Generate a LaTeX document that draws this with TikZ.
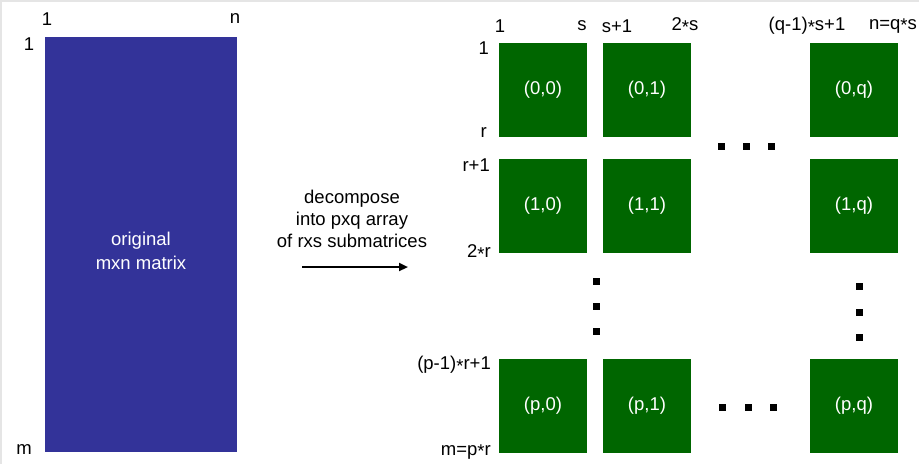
\documentclass[tikz,border=0pt]{standalone}
\usepackage{fontspec}
\setmainfont{Liberation Sans}
\usetikzlibrary{arrows.meta}
% small centred multiplication star
\newcommand\mulstar{\raisebox{-0.3ex}{*}}
\begin{document}
\begin{tikzpicture}[x=1pt,y=-1pt,
  every node/.style={font=\fontsize{18.5}{22}\selectfont, inner sep=0pt},
  bigmat/.style={rectangle, fill=mblue, minimum width=192pt, minimum height=415pt, text=white, align=center},
  blk/.style={rectangle, fill=mgreen, minimum width=88pt, minimum height=94pt, text=white},
  dotsq/.style={rectangle, fill=black, minimum size=7pt, inner sep=0pt},
  rowlab/.style={anchor=east}]
\definecolor{mblue}{HTML}{333399}
\definecolor{mgreen}{HTML}{006600}
\useasboundingbox (0,0) rectangle (919,464);
\fill[white] (0,0) rectangle (919,464);
% thin grey frame along top and left edges
\fill[black!10] (0,0) rectangle (919,2);
\fill[black!10] (0,0) rectangle (2,464);

% original matrix
\node[bigmat] (orig) at (141,244.5) {};
\node[text=white, align=center] (origtxt) at (141,251) {original\\[2pt]mxn matrix};
\node (l1) at (29,44) {1};
\node (lm) at (24,450) {m};
\node (t1) at (47,19) {1};
\node (tn) at (235,19) {n};

% decomposition arrow and caption
\node[align=center] (cap) at (352,219) {decompose\\into pxq array\\of rxs submatrices};
\coordinate (a0) at (302,267);
\coordinate (a1) at (408,267);
\draw[line width=2.2pt, -{Triangle[length=9pt,width=8pt]}] (a0) -- (a1);

% array of submatrices
\node[blk] (b00) at (543,90) {(0,0)};
\node[blk] (b01) at (647,90) {(0,1)};
\node[blk] (b0q) at (854,90) {(0,q)};
\node[blk] (b10) at (543,206) {(1,0)};
\node[blk] (b11) at (647,206) {(1,1)};
\node[blk] (b1q) at (854,206) {(1,q)};
\node[blk] (bp0) at (543,405.5) {(p,0)};
\node[blk] (bp1) at (647,405.5) {(p,1)};
\node[blk] (bpq) at (854,405.5) {(p,q)};

% column index labels
\node (c1) at (500,26) {1};
\node (cs) at (582,26) {s};
\node (cs1) at (617,26) {s+1};
\node (c2s) at (685,26) {2\mulstar s};
\node (cq) at (807,26) {(q-1)\mulstar s+1};
\node (cn) at (893,26) {n=q\mulstar s};

% row index labels
\node[rowlab] (r1) at (489,48) {1};
\node[rowlab] (rr) at (487,133) {r};
\node[rowlab] (rr1) at (490,165) {r+1};
\node[rowlab] (r2r) at (491,253) {2\mulstar r};
\node[rowlab] (rp) at (491,365) {(p-1)\mulstar r+1};
\node[rowlab] (rm) at (491,452) {m=p\mulstar r};

% ellipsis dots
\node[dotsq] (h1) at (721,146) {};
\node[dotsq] (h2) at (746,146) {};
\node[dotsq] (h3) at (771,146) {};
\node[dotsq] (g1) at (722,407) {};
\node[dotsq] (g2) at (748,407) {};
\node[dotsq] (g3) at (773,407) {};
\node[dotsq] (v1) at (596,281) {};
\node[dotsq] (v2) at (596,306) {};
\node[dotsq] (v3) at (596,331) {};
\node[dotsq] (w1) at (859,286) {};
\node[dotsq] (w2) at (859,312) {};
\node[dotsq] (w3) at (859,337) {};
\end{tikzpicture}
\end{document}
